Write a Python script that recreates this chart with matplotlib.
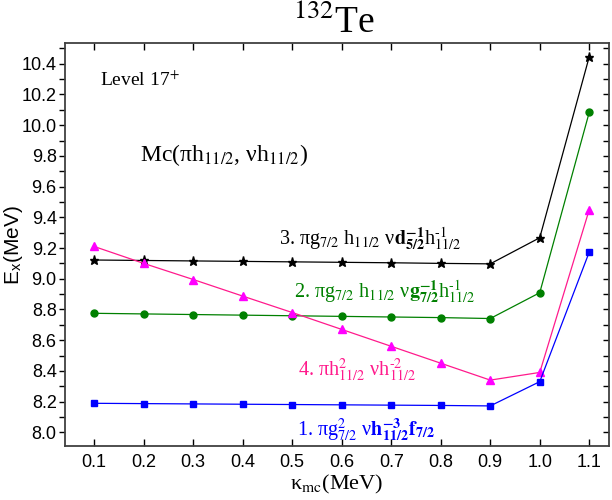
import matplotlib
matplotlib.use("Agg")
import matplotlib.pyplot as plt
from matplotlib.ticker import MultipleLocator

plt.rcParams['font.family'] = ['Liberation Sans', 'DejaVu Sans']
plt.rcParams['mathtext.fontset'] = 'stix'

kappa = [0.1, 0.2, 0.3, 0.4, 0.5, 0.6, 0.7, 0.8, 0.9, 1.0, 1.1]
# 1. pi g7/2^2 nu h11/2^-3 f7/2
e_conf1 = [8.189, 8.187, 8.185, 8.183, 8.181, 8.179, 8.177, 8.175, 8.172, 8.330, 9.174]
# 2. pi g7/2 h11/2 nu g7/2^-1 h11/2^-1
e_conf2 = [8.775, 8.771, 8.767, 8.763, 8.759, 8.755, 8.751, 8.747, 8.741, 8.909, 10.084]
# 3. pi g7/2 h11/2 nu d5/2^-1 h11/2^-1
e_conf3 = [9.122, 9.119, 9.116, 9.113, 9.110, 9.107, 9.104, 9.100, 9.097, 9.267, 10.446]
# 4. pi h11/2^2 nu h11/2^-2
e_conf4 = [9.210, 9.100, 8.995, 8.887, 8.780, 8.670, 8.560, 8.450, 8.340, 8.390, 9.450]

fig = plt.figure(figsize=(6.12, 5.0), dpi=100)
ax = fig.add_axes([0.1062, 0.108, 0.889, 0.8054])

ax.plot(kappa, e_conf3, color='black', lw=0.9, marker='*', ms=6.5, mfc='black', mec='black')
ax.plot(kappa, e_conf2, color='#008000', lw=0.9, marker='o', ms=5, mfc='#008000', mec='#008000')
ax.plot(kappa, e_conf4, color='#ff1a8c', lw=0.9, marker='^', ms=5.5, mfc='#ff00ff', mec='#ff00ff')
ax.plot(kappa, e_conf1, color='#0000ff', lw=0.9, marker='s', ms=4.5, mfc='#0000ff', mec='#0000ff')

ax.set_xlim(0.041, 1.14)
ax.set_ylim(7.911, 10.533)
ax.set_xticks(kappa)
ax.set_xticklabels(['%.1f' % k for k in kappa])
ax.yaxis.set_major_locator(MultipleLocator(0.2))
ax.yaxis.set_minor_locator(MultipleLocator(0.1))
ax.yaxis.set_major_formatter(plt.FormatStrFormatter('%.1f'))

for s in ax.spines.values():
    s.set_linewidth(1.3)
    s.set_color('#404040')

ax.tick_params(axis='y', which='both', direction='out', left=True, right=False, labelsize=13, width=1, length=4, pad=2)
ax.tick_params(axis='x', which='both', direction='in', bottom=True, top=False, labelsize=13, width=1, length=5, pad=6)

sec_y = ax.secondary_yaxis('right')
sec_y.yaxis.set_major_locator(MultipleLocator(0.2))
sec_y.yaxis.set_minor_locator(MultipleLocator(0.1))
sec_y.tick_params(which='both', direction='in', labelright=False, width=1, length=4)
sec_y.spines['right'].set_visible(False)

sec_x = ax.secondary_xaxis('top')
sec_x.set_xticks(kappa)
sec_x.tick_params(direction='in', labeltop=False, width=1, length=5)
sec_x.spines['top'].set_visible(False)

ax.set_ylabel(r'E$_\mathregular{x}$(MeV)', fontsize=15)
ax.yaxis.set_label_coords(-0.073, 0.5)
ax.set_xlabel(r'κ$_{\mathrm{mc}}$(MeV)', fontsize=16, family='Liberation Serif', labelpad=1)

fig.text(0.545, 0.955, r'$^{132}$Te', fontsize=27, family='Liberation Serif', ha='center', va='center')

serif = 'Liberation Serif'
ax.text(0.111, 10.29, r'Level 17$^{+}$', fontsize=14, family=serif, ha='left', va='center')
ax.text(0.192, 9.806, r'Mc(πh$_{11/2}$, νh$_{11/2}$)', fontsize=17, family=serif,
        ha='left', va='center')

ax.text(0.657, 9.255, r'3. πg$_{7/2}$ h$_{11/2}$ ν$\mathbf{d}^{\mathbf{-1}}_{\mathbf{5/2}}$h$^{\text{-1}}_{11/2}$',
        fontsize=14.5, family=serif, color='black', ha='center', va='center')
ax.text(0.687, 8.914, r'2. πg$_{7/2}$ h$_{11/2}$ ν$\mathbf{g}^{\mathbf{-1}}_{\mathbf{7/2}}$h$^{\text{-1}}_{11/2}$',
        fontsize=14.5, family=serif, color='#008000', ha='center', va='center')
ax.text(0.631, 8.406, r'4. πh$^{2}_{11/2}$ νh$^{\text{-2}}_{11/2}$',
        fontsize=14.5, family=serif, color='#ff1a8c', ha='center', va='center')
ax.text(0.649, 8.015, r'1. πg$^{2}_{7/2}$ ν$\mathbf{h}^{\mathbf{-3}}_{\mathbf{11/2}}\mathbf{f}_{\mathbf{7/2}}$',
        fontsize=14.5, family=serif, color='#0000ff', ha='center', va='center')

fig.savefig('out.png', dpi=100)
